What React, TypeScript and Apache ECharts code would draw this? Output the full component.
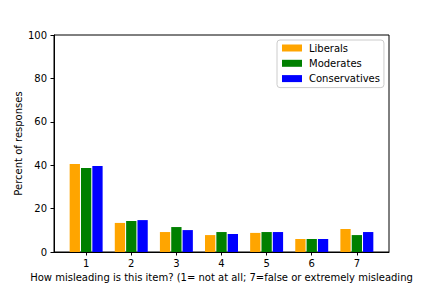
import React, { useEffect, useRef } from "react";
import * as echarts from "echarts";

const categories = [1, 2, 3, 4, 5, 6, 7];
const liberals = [40.5, 13.4, 9.2, 7.8, 8.8, 6.0, 10.6];
const moderates = [38.7, 14.3, 11.5, 9.2, 9.2, 6.0, 7.8];
const conservatives = [39.6, 14.7, 10.1, 8.3, 9.2, 6.0, 9.2];
const yTicks = [0, 20, 40, 60, 80, 100];

const FONT = "DejaVu Sans";

export default function App() {
  const ref = useRef<HTMLDivElement>(null);
  useEffect(() => {
    document.body.style.margin = "0";
    if (!ref.current) return;
    const chart = echarts.init(ref.current, undefined, { renderer: "svg" });
    const mk = (name: string, vals: number[], color: string) => ({
      name,
      type: "bar",
      data: categories.map((c, i) => [c, vals[i]]),
      barWidth: 10.3,
      barGap: "10%",
      itemStyle: { color },
    });
    chart.setOption({
      animation: false,
      textStyle: { fontFamily: FONT },
      grid: {
        left: 54,
        top: 35,
        right: 43,
        bottom: 36,
        show: true,
        borderColor: "#000",
        borderWidth: 1,
        backgroundColor: "transparent",
      },
      legend: {
        orient: "vertical",
        left: 277,
        top: 40,
        padding: [2, 4, 3, 5],
        itemWidth: 20,
        itemHeight: 7,
        itemGap: 3.3,
        borderColor: "#cccccc",
        borderWidth: 1,
        borderRadius: 3,
        backgroundColor: "#ffffff",
        icon: "rect",
        textStyle: {
          fontFamily: FONT,
          fontSize: 10,
          color: "#000",
          lineHeight: 12,
          padding: [0, 0, 0, 2],
        },
        data: ["Liberals", "Moderates", "Conservatives"],
      },
      xAxis: {
        type: "value",
        min: 0.2875,
        max: 7.7125,
        name: "How misleading is this item? (1= not at all; 7=false or extremely misleading",
        nameLocation: "middle",
        nameGap: 20,
        nameMoveOverlap: false,
        nameTextStyle: { fontFamily: FONT, fontSize: 10, color: "#000" },
        axisLine: { show: true, lineStyle: { color: "#000", width: 1 } },
        axisTick: {
          show: true,
          inside: false,
          length: 3.5,
          lineStyle: { color: "#000" },
          customValues: categories,
        },
        axisLabel: {
          fontFamily: FONT,
          fontSize: 10,
          color: "#000",
          margin: 6,
          customValues: categories,
        },
        splitLine: { show: false },
      },
      yAxis: {
        type: "value",
        min: 0,
        max: 100,
        interval: 20,
        name: "Percent of responses",
        nameLocation: "middle",
        nameGap: 31,
        nameMoveOverlap: false,
        nameTextStyle: { fontFamily: FONT, fontSize: 10, color: "#000" },
        axisLine: { show: true, lineStyle: { color: "#000", width: 1 } },
        axisTick: { show: true, inside: false, length: 3.5, lineStyle: { color: "#000" } },
        axisLabel: {
          fontFamily: FONT,
          fontSize: 10,
          color: "#000",
          margin: 7,
          customValues: yTicks,
        },
        splitLine: { show: false },
      },
      series: [
        mk("Liberals", liberals, "#FFA500"),
        mk("Moderates", moderates, "#008000"),
        mk("Conservatives", conservatives, "#0000FF"),
      ],
    });
    return () => chart.dispose();
  }, []);
  return <div ref={ref} style={{ width: 432, height: 288 }} />;
}
